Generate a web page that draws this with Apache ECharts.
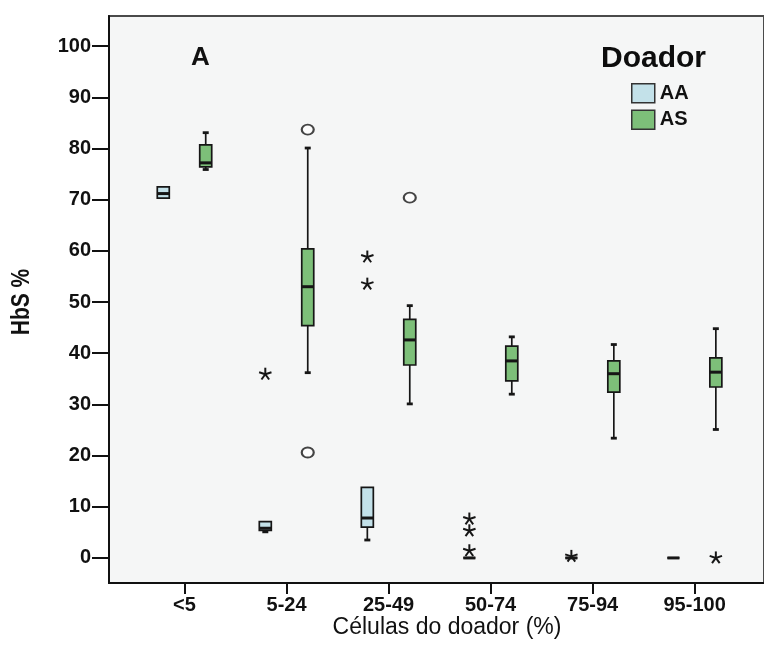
<!DOCTYPE html>
<html lang="pt">
  <head>
    <meta charset="UTF-8" />
    <title>HbS % por células do doador</title>
    <script src="https://cdn.jsdelivr.net/npm/echarts@6.0.0/dist/echarts.min.js"></script>
    <style>
      html, body { margin: 0; padding: 0; background: #fff; }
      #main { width: 764px; height: 648px; }
    </style>
  </head>
  <body>
    <div id="main"></div>

    <script>
      // categories on the x axis
      const categories = ['<5', '5-24', '25-49', '50-74', '75-94', '95-100'];
      const yTicks = [0, 10, 20, 30, 40, 50, 60, 70, 80, 90, 100];

      // boxes: [category index, min, q1, median, q3, max]
      const aaBoxes = [
        [0, 70.3, 70.3, 71.2, 72.5, 72.5],
        [1, 5.1, 5.4, 5.8, 7.1, 7.1],
        [2, 3.5, 6.0, 7.8, 13.8, 13.8],
        [3, 0, 0, 0, 0, 0],
        [4, 0, 0, 0, 0, 0],
        [5, 0, 0, 0, 0, 0],
      ];
      const asBoxes = [
        [0, 75.9, 76.4, 77.2, 80.7, 83.1],
        [1, 36.2, 45.4, 53.0, 60.4, 80.1],
        [2, 30.1, 37.7, 42.6, 46.6, 49.3],
        [3, 32.0, 34.6, 38.5, 41.4, 43.2],
        [4, 23.4, 32.4, 36.0, 38.5, 41.7],
        [5, 25.1, 33.4, 36.3, 39.1, 44.8],
      ];

      // outliers: [category index, value]
      const aaStars = [[1, 35.9], [2, 58.8], [2, 53.5], [3, 7.6], [3, 5.3], [3, 1.4], [4, 0.3]];
      const asCircles = [[1, 83.7], [1, 20.6], [2, 70.4]];
      const asStars = [[5, 0]];

      const AA_OFF = -0.208;
      const AS_OFF = 0.208;
      const ink = '#161616';

      function boxRenderer(off) {
        return function (params, api) {
          const x = api.value(0) + off;
          const pMin = api.coord([x, api.value(1)]);
          const pQ1 = api.coord([x, api.value(2)]);
          const pMed = api.coord([x, api.value(3)]);
          const pQ3 = api.coord([x, api.value(4)]);
          const pMax = api.coord([x, api.value(5)]);
          const cx = pMed[0];
          const w = 12;
          const cap = 3;
          const line = { stroke: ink, lineWidth: 1.7 };
          const children = [];
          if (pMin[1] - pQ1[1] > 0.5) {
            children.push({ type: 'line', shape: { x1: cx, y1: pQ1[1], x2: cx, y2: pMin[1] }, style: line });
            children.push({ type: 'line', shape: { x1: cx - cap, y1: pMin[1], x2: cx + cap, y2: pMin[1] }, style: { stroke: ink, lineWidth: 2.8 } });
          }
          if (pQ3[1] - pMax[1] > 0.5) {
            children.push({ type: 'line', shape: { x1: cx, y1: pQ3[1], x2: cx, y2: pMax[1] }, style: line });
            children.push({ type: 'line', shape: { x1: cx - cap, y1: pMax[1], x2: cx + cap, y2: pMax[1] }, style: { stroke: ink, lineWidth: 2.8 } });
          }
          children.push({
            type: 'rect',
            shape: { x: cx - w / 2, y: pQ3[1], width: w, height: pQ1[1] - pQ3[1] },
            style: { fill: api.visual('color'), stroke: ink, lineWidth: 1.7 },
          });
          children.push({
            type: 'line',
            shape: { x1: cx - w / 2, y1: pMed[1], x2: cx + w / 2, y2: pMed[1] },
            style: { stroke: ink, lineWidth: 3 },
          });
          return { type: 'group', children: children };
        };
      }

      function starRenderer(off) {
        return function (params, api) {
          const p = api.coord([api.value(0) + off, api.value(1)]);
          const r = 6.5;
          const children = [];
          for (let k = 0; k < 5; k++) {
            const a = (-90 + k * 72) * Math.PI / 180;
            children.push({
              type: 'line',
              shape: { x1: p[0], y1: p[1], x2: p[0] + r * Math.cos(a), y2: p[1] + r * Math.sin(a) },
              style: { stroke: ink, lineWidth: 2 },
            });
          }
          return { type: 'group', children: children };
        };
      }

      const chart = echarts.init(document.getElementById('main'));

      chart.setOption({
        animation: false,
        backgroundColor: '#ffffff',
        grid: {
          left: 109, top: 16, right: -4, bottom: 65,
          show: true,
          backgroundColor: '#f5f6f6',
          borderColor: '#4a4a4a',
          borderWidth: 2,
        },
        legend: {
          orient: 'vertical',
          left: 631,
          top: 83,
          padding: 0,
          itemWidth: 23,
          itemHeight: 19,
          itemGap: 6,
          data: [
            { name: 'AA', icon: 'rect' },
            { name: 'AS', icon: 'rect' },
          ],
          itemStyle: { borderColor: '#333', borderWidth: 1.5 },
          textStyle: { fontFamily: 'Liberation Sans', fontWeight: 'bold', fontSize: 20, color: '#111' },
        },
        graphic: [
          {
            type: 'text', left: 191, top: 45,
            style: { text: 'A', fontFamily: 'Liberation Sans', fontWeight: 'bold', fontSize: 26, fill: '#111' },
          },
          {
            type: 'text', left: 601, top: 44,
            style: { text: 'Doador', fontFamily: 'Liberation Sans', fontWeight: 'bold', fontSize: 30, fill: '#0d0d0d' },
          },
          {
            type: 'text', x: 447, y: 628,
            style: {
              text: 'Células do doador (%)', fontFamily: 'Liberation Sans', fontSize: 23,
              fill: '#111', align: 'center', verticalAlign: 'middle',
            },
          },
          {
            type: 'text', x: 22, y: 302, rotation: Math.PI / 2, scaleX: 0.84,
            style: {
              text: 'HbS %', fontFamily: 'Liberation Sans', fontWeight: 'bold', fontSize: 25,
              fill: '#111', align: 'center', verticalAlign: 'middle',
            },
          },
        ],
        xAxis: {
          type: 'value',
          min: -0.74,
          max: 5.68,
          splitLine: { show: false },
          axisLine: { show: true, onZero: false, lineStyle: { color: '#111', width: 2 } },
          axisTick: { show: true, length: 11, customValues: [0, 1, 2, 3, 4, 5], lineStyle: { color: '#111', width: 2 } },
          axisLabel: {
            customValues: [0, 1, 2, 3, 4, 5],
            formatter: (v) => categories[Math.round(v)],
            margin: 12,
            fontFamily: 'Liberation Sans', fontWeight: 'bold', fontSize: 20, color: '#111',
          },
        },
        yAxis: {
          type: 'value',
          min: -4.9,
          max: 105.9,
          splitLine: { show: false },
          axisLine: { show: true, onZero: false, lineStyle: { color: '#111', width: 2 } },
          axisTick: { show: true, length: 17, customValues: yTicks, lineStyle: { color: '#111', width: 2 } },
          axisLabel: {
            customValues: yTicks,
            margin: 18,
            fontFamily: 'Liberation Sans', fontWeight: 'bold', fontSize: 20, color: '#111',
          },
        },
        series: [
          {
            name: 'AA', type: 'custom', color: '#c3e1e9',
            encode: { x: 0, y: [1, 2, 3, 4, 5] },
            renderItem: boxRenderer(AA_OFF),
            data: aaBoxes, z: 3,
          },
          {
            name: 'AS', type: 'custom', color: '#7dbf79',
            encode: { x: 0, y: [1, 2, 3, 4, 5] },
            renderItem: boxRenderer(AS_OFF),
            data: asBoxes, z: 3,
          },
          {
            name: 'AA outliers', type: 'custom',
            renderItem: starRenderer(AA_OFF),
            data: aaStars, z: 4,
          },
          {
            name: 'AS outliers', type: 'custom',
            renderItem: starRenderer(AS_OFF),
            data: asStars, z: 4,
          },
          {
            name: 'AS extremes', type: 'scatter',
            symbol: 'emptyCircle', symbolSize: [12, 10],
            itemStyle: { color: ink, borderColor: ink, borderWidth: 2 },
            data: asCircles.map((d) => [d[0] + AS_OFF, d[1]]),
            z: 4,
          },
        ],
      });
    </script>
  </body>
</html>
